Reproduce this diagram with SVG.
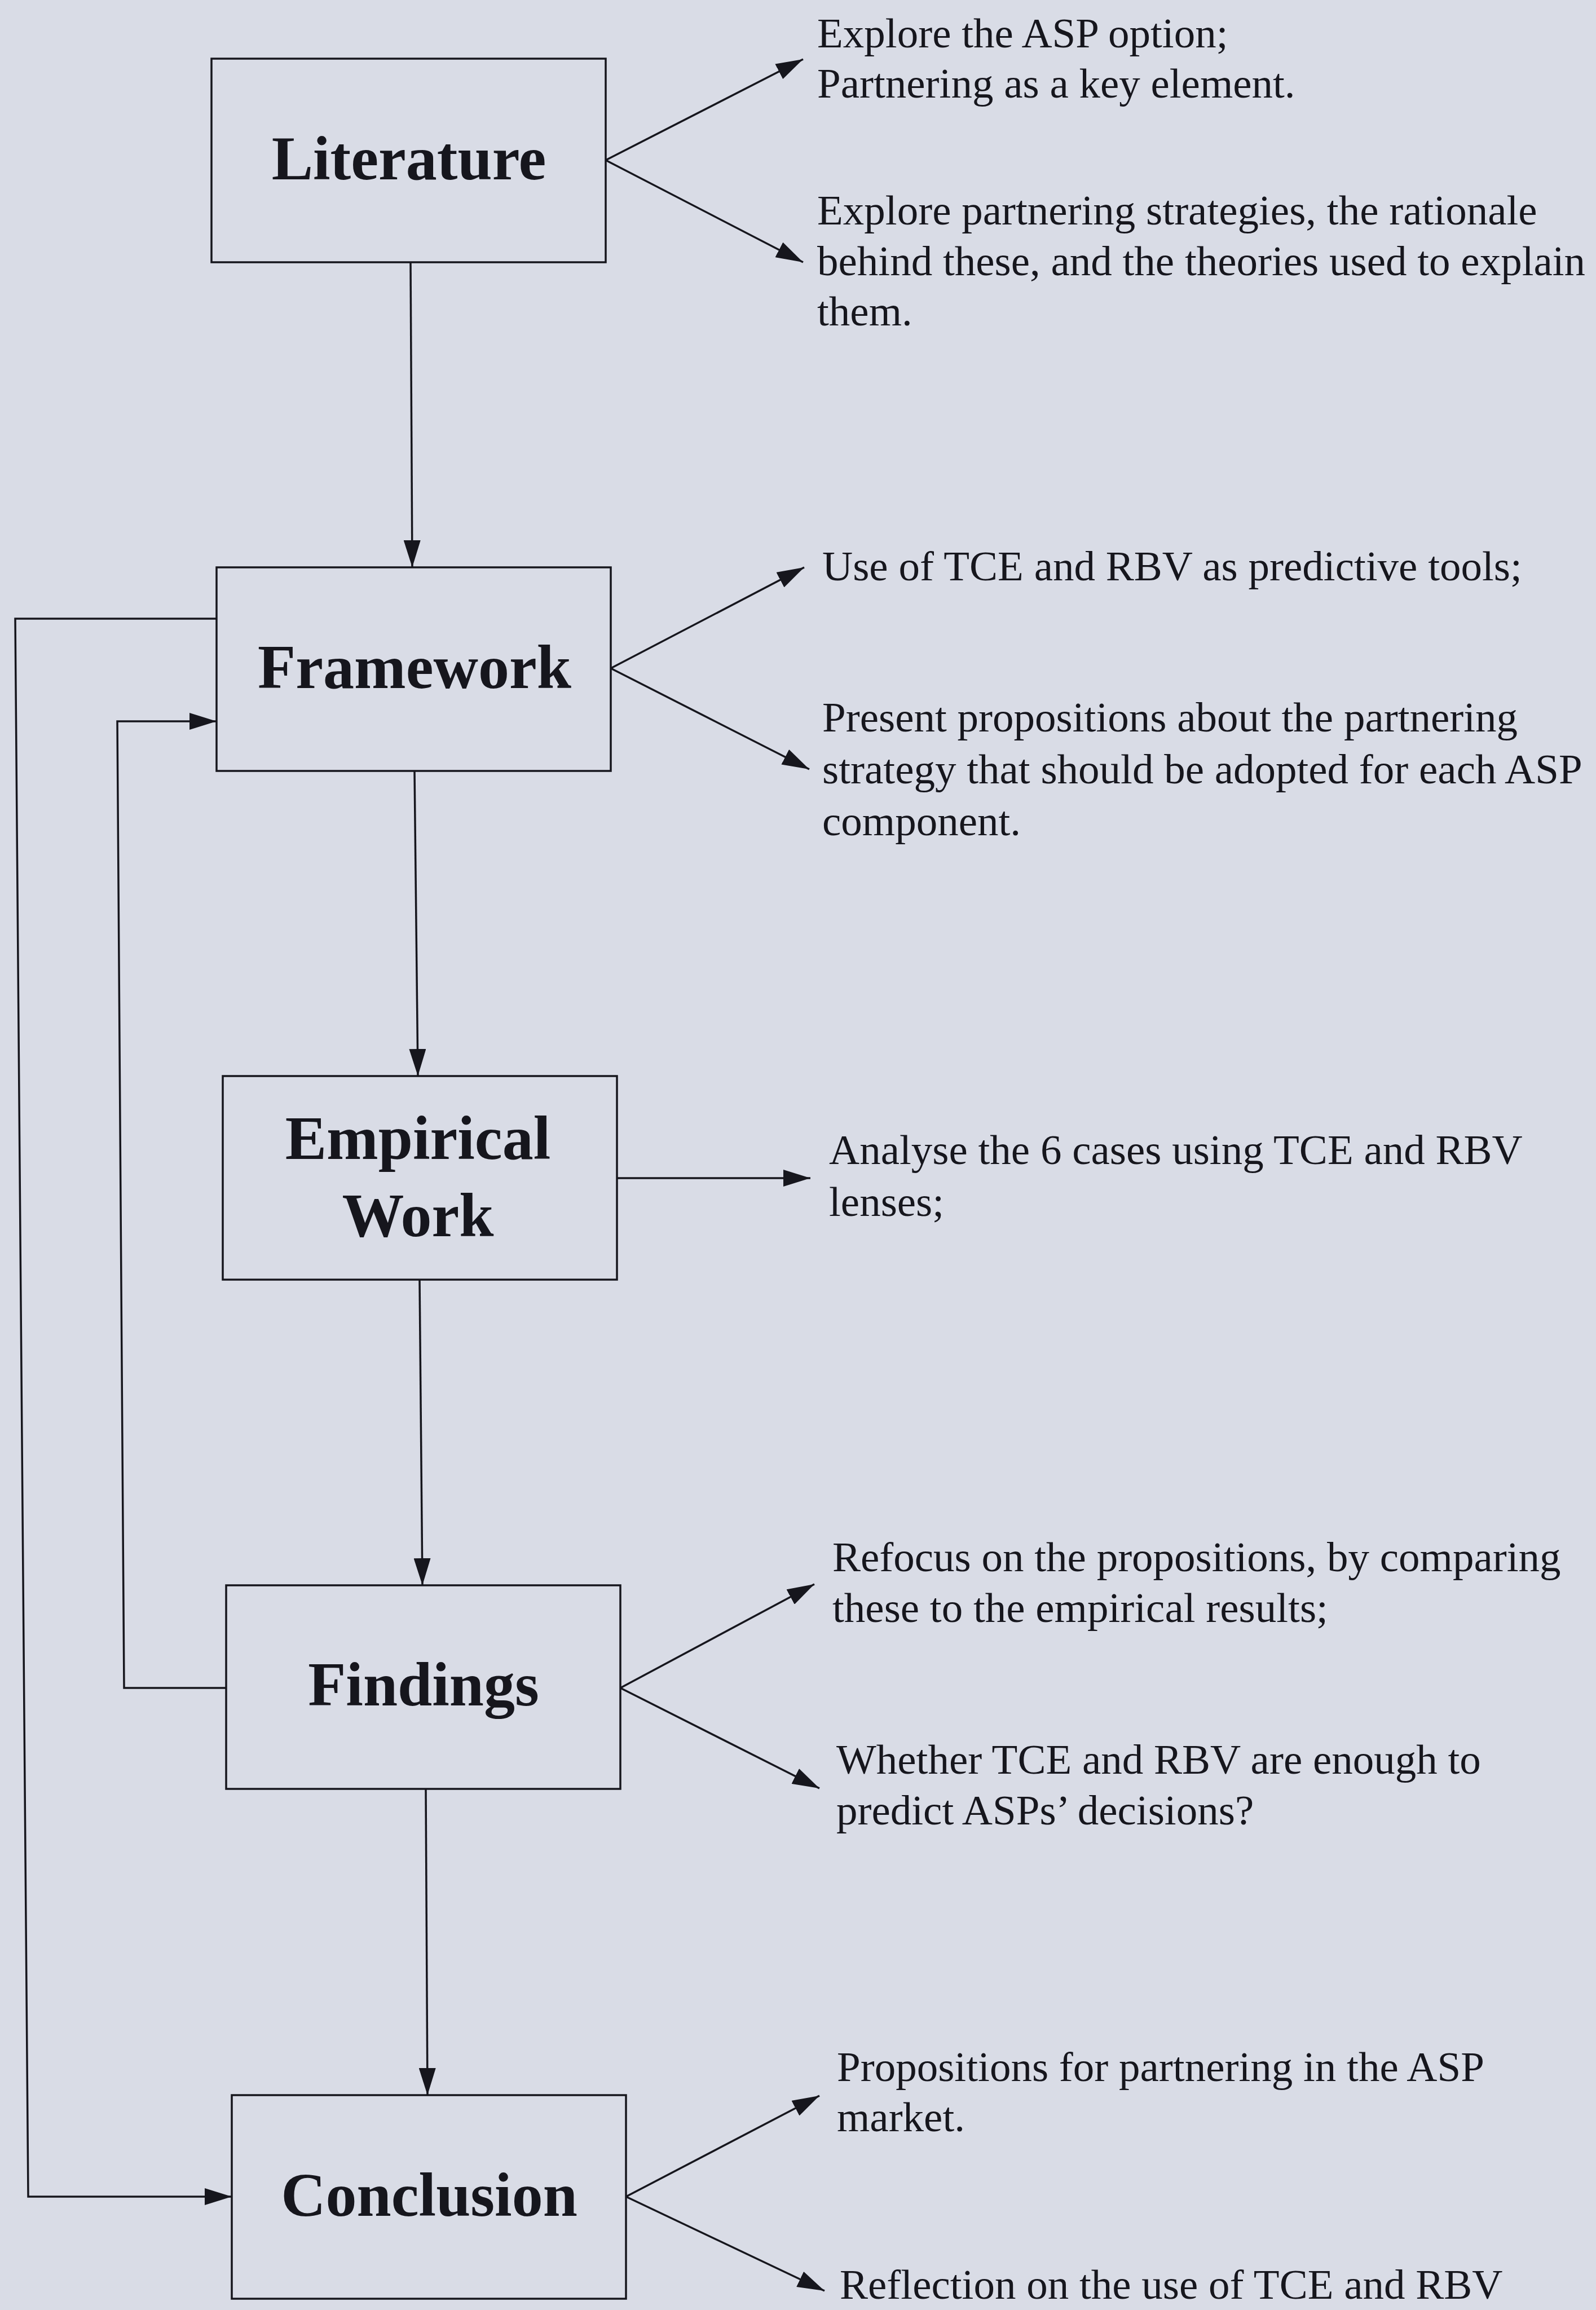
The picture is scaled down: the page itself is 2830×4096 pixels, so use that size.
<svg xmlns="http://www.w3.org/2000/svg" width="2830" height="4096" viewBox="0 0 2830 4096">
  <style>
    .box { fill: none; stroke: #16161d; stroke-width: 3.5; }
    .edge { fill: none; stroke: #16161d; stroke-width: 3.5; }
    .title { font-family: "Liberation Serif", "Times New Roman", serif; font-weight: bold; font-size: 110px; fill: #16161d; text-anchor: middle; }
    .note { font-family: "Liberation Serif", "Times New Roman", serif; font-size: 75px; fill: #16161d; }
  </style>
  <defs>
    <marker id="ah" markerWidth="48" markerHeight="30" refX="48" refY="15" orient="auto" markerUnits="userSpaceOnUse">
      <path d="M0,0 L48,15 L0,30 z" fill="#16161d"/>
    </marker>
  </defs>

  <rect width="2830" height="4096" fill="#d9dce6"/>

  <!-- Stage boxes -->
  <g id="literature">
    <rect class="box" x="375" y="104" width="699" height="361"/>
    <text class="title" x="725" y="318">Literature</text>
  </g>
  <g id="framework">
    <rect class="box" x="384" y="1006" width="699" height="361"/>
    <text class="title" x="735" y="1220">Framework</text>
  </g>
  <g id="empirical-work">
    <rect class="box" x="395" y="1908" width="699" height="361"/>
    <text class="title" x="741" y="2055">Empirical</text>
    <text class="title" x="741" y="2192">Work</text>
  </g>
  <g id="findings">
    <rect class="box" x="401" y="2811" width="699" height="361"/>
    <text class="title" x="751" y="3024">Findings</text>
  </g>
  <g id="conclusion">
    <rect class="box" x="411" y="3715" width="699" height="361"/>
    <text class="title" x="761" y="3929">Conclusion</text>
  </g>

  <!-- Notes beside each stage -->
  <g id="literature-notes" class="note">
    <text x="1449" y="84">Explore the ASP option;</text>
    <text x="1449" y="173">Partnering as a key element.</text>
    <text x="1449" y="398">Explore partnering strategies, the rationale</text>
    <text x="1449" y="488">behind these, and the theories used to explain</text>
    <text x="1449" y="577">them.</text>
  </g>
  <g id="framework-notes" class="note">
    <text x="1458" y="1029">Use of TCE and RBV as predictive tools;</text>
    <text x="1458" y="1297">Present propositions about the partnering</text>
    <text x="1458" y="1389">strategy that should be adopted for each ASP</text>
    <text x="1458" y="1481">component.</text>
  </g>
  <g id="empirical-notes" class="note">
    <text x="1470" y="2064">Analyse the 6 cases using TCE and RBV</text>
    <text x="1470" y="2156">lenses;</text>
  </g>
  <g id="findings-notes" class="note">
    <text x="1476" y="2786">Refocus on the propositions, by comparing</text>
    <text x="1476" y="2876">these to the empirical results;</text>
    <text x="1483" y="3145">Whether TCE and RBV are enough to</text>
    <text x="1483" y="3235">predict ASPs’ decisions?</text>
  </g>
  <g id="conclusion-notes" class="note">
    <text x="1484" y="3690">Propositions for partnering in the ASP</text>
    <text x="1484" y="3779">market.</text>
    <text x="1489" y="4076">Reflection on the use of TCE and RBV</text>
  </g>

  <!-- Connectors -->
  <g id="connectors">
    <!-- main flow -->
    <line class="edge" x1="728" y1="465" x2="731" y2="1006" marker-end="url(#ah)"/>
    <line class="edge" x1="735" y1="1367" x2="741" y2="1908" marker-end="url(#ah)"/>
    <line class="edge" x1="744" y1="2269" x2="749" y2="2811" marker-end="url(#ah)"/>
    <line class="edge" x1="755" y1="3172" x2="758" y2="3715" marker-end="url(#ah)"/>

    <!-- stage to notes -->
    <line class="edge" x1="1074" y1="284" x2="1424" y2="105" marker-end="url(#ah)"/>
    <line class="edge" x1="1074" y1="284" x2="1424" y2="465" marker-end="url(#ah)"/>
    <line class="edge" x1="1083" y1="1185" x2="1426" y2="1006" marker-end="url(#ah)"/>
    <line class="edge" x1="1083" y1="1185" x2="1435" y2="1364" marker-end="url(#ah)"/>
    <line class="edge" x1="1094" y1="2089" x2="1437" y2="2089" marker-end="url(#ah)"/>
    <line class="edge" x1="1100" y1="2993" x2="1444" y2="2809" marker-end="url(#ah)"/>
    <line class="edge" x1="1100" y1="2993" x2="1453" y2="3171" marker-end="url(#ah)"/>
    <line class="edge" x1="1110" y1="3895" x2="1453" y2="3716" marker-end="url(#ah)"/>
    <line class="edge" x1="1110" y1="3895" x2="1462" y2="4062" marker-end="url(#ah)"/>

    <!-- feedback loops -->
    <polyline class="edge" points="384,1097 27,1097 50,3895 411,3895" marker-end="url(#ah)"/>
    <polyline class="edge" points="401,2993 220,2993 208,1279 384,1279" marker-end="url(#ah)"/>
  </g>
</svg>
